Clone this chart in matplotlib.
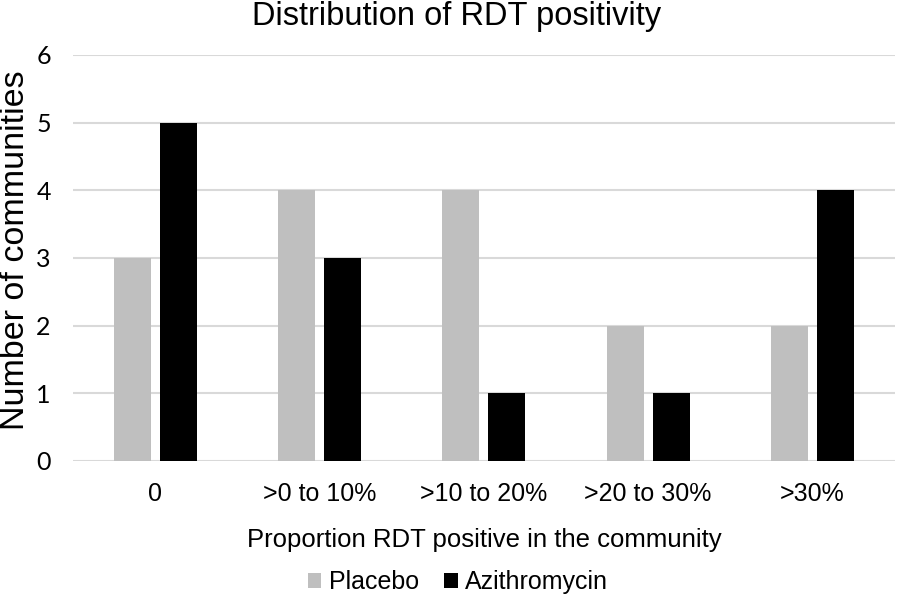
import numpy as np
import matplotlib.pyplot as plt

categories = ['0', '>0 to 10%', '>10 to 20%', '>20 to 30%', '>30%']
placebo = [3, 4, 4, 2, 2]
azithromycin = [5, 3, 1, 1, 4]

plt.rcParams['font.family'] = ['Liberation Sans', 'DejaVu Sans']

fig = plt.figure(figsize=(8.98, 5.99), dpi=100)
ax = fig.add_axes([0.0813, 0.2304, 0.915, 0.678])

x = np.arange(len(categories))
w = 0.225
ax.bar(x - 0.14, placebo, w, color='#bfbfbf', label='Placebo', zorder=3)
ax.bar(x + 0.14, azithromycin, w, color='black', label='Azithromycin', zorder=3)

ax.set_xlim(-0.5, 4.5)
ax.set_ylim(0, 6)
ax.set_yticks(range(7))
ax.set_yticklabels([str(i) for i in range(7)], fontfamily='Lato', fontsize=18)
ax.set_xticks(x)
ax.set_xticklabels(categories, fontsize=18)
ax.tick_params(length=0)
ax.tick_params(axis='x', pad=15)
ax.tick_params(axis='y', pad=16)
ax.yaxis.grid(True, color='#d9d9d9', linewidth=1.5, zorder=0)
for s in ax.spines.values():
    s.set_visible(False)

fig.text(0.508, 0.972, 'Distribution of RDT positivity', fontsize=23.5,
         ha='center', va='center')
ax.set_xlabel('Proportion RDT positive in the community', fontsize=18.5, labelpad=16)
fig.text(0.017, 0.583, 'Number of communities', fontsize=24.5, rotation=90,
         ha='center', va='center')

fig.legend(loc='lower center', bbox_to_anchor=(0.51, -0.03), ncol=2, frameon=False,
           fontsize=18, handlelength=0.55, handleheight=0.55, handletextpad=0.3,
           columnspacing=1.0)

fig.savefig('out.png', dpi=100)
